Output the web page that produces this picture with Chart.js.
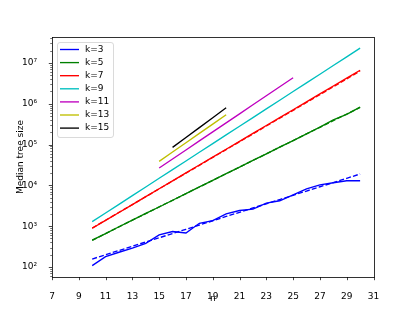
<!DOCTYPE html>
<html lang="en">
<head>
  <meta charset="UTF-8">
  <title>Median tree size</title>
  <script src="https://cdn.jsdelivr.net/npm/chart.js"></script>
  <style>
    body { margin: 0; background: #fff; }
    canvas { display: block; }
  </style>
</head>
<body>
  <canvas id="treeChart" width="415" height="311"></canvas>

  <script>
    // n values for each run
    const nLong = [10, 11, 12, 13, 14, 15, 16, 17, 18, 19, 20, 21, 22, 23, 24, 25, 26, 27, 28, 29, 30];
    const nK11 = [15, 16, 17, 18, 19, 20, 21, 22, 23, 24, 25];
    const nK13 = [15, 16, 17, 18, 19, 20];
    const nK15 = [16, 17, 18, 19, 20];

    // median tree sizes
    const k3 = [108, 179, 230, 290, 380, 610, 740, 680, 1180, 1370, 2000, 2420, 2620, 3660, 4200, 5870, 8250, 10300, 11600, 13000, 13000];
    const k3fit = [157, 200, 254, 323, 410, 520, 662, 840, 1070, 1360, 1730, 2190, 2790, 3540, 4500, 5720, 7270, 9240, 11700, 14900, 19000];
    const k5 = [457, 660, 970, 1400, 2050, 2950, 4320, 6250, 9150, 13200, 19300, 28000, 40800, 59000, 86500, 125000, 182000, 268000, 400000, 545000, 820000];
    const k5fit = [452, 661, 966, 1405, 2042, 2968, 4315, 6273, 9120, 13260, 19280, 28020, 40740, 59230, 86100, 125200, 182000, 264600, 384600, 559200, 812800];
    const k7 = [891, 1392, 2170, 3390, 5300, 8270, 12900, 20200, 31500, 49100, 76700, 119800, 187000, 292000, 456000, 712000, 1110000, 1740000, 2710000, 4230000, 6610000];
    const k7fit = [900, 1400, 2180, 3390, 5280, 8220, 12800, 19900, 31000, 48300, 75200, 117000, 182000, 284000, 442000, 688000, 1070000, 1670000, 2600000, 4050000, 6300000];
    const k9 = [1290, 2100, 3430, 5590, 9120, 14900, 24300, 39600, 64600, 105300, 171800, 280200, 457100, 745600, 1216000, 1984000, 3236000, 5278000, 8610000, 14040000, 22900000];
    const k11 = [26600, 44300, 73600, 122500, 203800, 339600, 564900, 939700, 1563000, 2600000, 4325000];
    const k13 = [38600, 65400, 110700, 187500, 317000, 537000];
    const k15 = [85100, 148800, 260000, 454500, 794000];

    const yMajor = [1e2, 1e3, 1e4, 1e5, 1e6, 1e7];
    const yMajorLabels = ['10²', '10³', '10⁴', '10⁵', '10⁶', '10⁷'];
    const xTicks = [7, 9, 11, 13, 15, 17, 19, 21, 23, 25, 27, 29, 31];

    function pts(xs, ys) {
      return xs.map((x, i) => ({ x: x, y: ys[i] }));
    }

    function line(label, xs, ys, color, dashed) {
      return {
        label: label,
        data: pts(xs, ys),
        borderColor: color,
        backgroundColor: color,
        borderWidth: 1.35,
        borderDash: dashed ? [5, 2.2] : [],
        pointRadius: 0,
        tension: 0,
        fill: false,
        inLegend: !dashed
      };
    }

    const datasets = [
      line('k=3', nLong, k3, '#0000ff', false),
      line('k=3 fit', nLong, k3fit, '#0000ff', true),
      line('k=5', nLong, k5, '#008000', false),
      line('k=5 fit', nLong, k5fit, '#008000', true),
      line('k=7', nLong, k7, '#ff0000', false),
      line('k=7 fit', nLong, k7fit, '#ff0000', true),
      line('k=9', nLong, k9, '#00bfbf', false),
      line('k=11', nK11, k11, '#bf00bf', false),
      line('k=13', nK13, k13, '#bfbf00', false),
      line('k=15', nK15, k15, '#000000', false)
    ];

    // frame, outward ticks (major + log minor) and the legend box
    const framePlugin = {
      id: 'frame',
      afterDraw(chart) {
        const ctx = chart.ctx;
        const a = chart.chartArea;
        const xs = chart.scales.x;
        const ys = chart.scales.y;
        ctx.save();
        ctx.strokeStyle = '#000';

        // x ticks
        ctx.lineWidth = 0.72;
        xTicks.forEach(v => {
          const px = Math.round(xs.getPixelForValue(v)) + 0.5;
          ctx.beginPath();
          ctx.moveTo(px, a.bottom);
          ctx.lineTo(px, a.bottom + 3.2);
          ctx.stroke();
        });

        // y ticks
        for (let e = 1; e <= 8; e++) {
          for (let m = 1; m <= 9; m++) {
            const v = m * Math.pow(10, e);
            if (v < ys.min || v > ys.max) continue;
            const py = Math.round(ys.getPixelForValue(v)) + 0.5;
            ctx.lineWidth = m === 1 ? 0.72 : 0.55;
            ctx.beginPath();
            ctx.moveTo(a.left, py);
            ctx.lineTo(a.left - (m === 1 ? 3.2 : 1.8), py);
            ctx.stroke();
          }
        }

        // frame
        ctx.lineWidth = 0.8;
        ctx.strokeRect(Math.round(a.left) + 0.5, Math.round(a.top) + 0.5,
          Math.round(a.right - a.left), Math.round(a.bottom - a.top));

        // legend
        const items = chart.data.datasets.filter(d => d.inLegend);
        const bx = 57.5, by = 42.5, bw = 56, bh = 95;
        ctx.fillStyle = 'rgba(255,255,255,0.8)';
        ctx.strokeStyle = 'rgba(204,204,204,0.8)';
        ctx.lineWidth = 0.9;
        ctx.beginPath();
        ctx.roundRect(bx, by, bw, bh, 2.5);
        ctx.fill();
        ctx.stroke();

        ctx.font = '9px "DejaVu Sans"';
        ctx.textBaseline = 'middle';
        ctx.textAlign = 'left';
        items.forEach((d, i) => {
          const y = 49.5 + i * 13.1;
          ctx.strokeStyle = d.borderColor;
          ctx.lineWidth = 1.35;
          ctx.beginPath();
          ctx.moveTo(60, y);
          ctx.lineTo(79, y);
          ctx.stroke();
          ctx.fillStyle = '#000';
          ctx.fillText(d.label, 85, y);
        });
        ctx.restore();
      }
    };

    Chart.defaults.font.family = '"DejaVu Sans"';
    Chart.defaults.font.size = 9;
    Chart.defaults.color = '#000';

    new Chart(document.getElementById('treeChart').getContext('2d'), {
      type: 'line',
      data: { datasets: datasets },
      options: {
        responsive: false,
        animation: false,
        devicePixelRatio: 1,
        layout: { padding: { left: 0, right: 41.5, top: 37, bottom: 0 } },
        plugins: {
          legend: { display: false },
          tooltip: { enabled: false }
        },
        scales: {
          x: {
            type: 'linear',
            min: 7,
            max: 31,
            afterBuildTicks: scale => { scale.ticks = xTicks.map(v => ({ value: v })); },
            afterFit: scale => { scale.height = 34; },
            ticks: { padding: 6, maxRotation: 0, autoSkip: false },
            grid: { display: false },
            border: { display: false },
            title: { display: true, text: 'n', padding: { top: 0, bottom: 7 } }
          },
          y: {
            type: 'logarithmic',
            min: 57,
            max: 4.3e7,
            afterBuildTicks: scale => { scale.ticks = yMajor.map(v => ({ value: v })); },
            afterFit: scale => { scale.width = 52; },
            ticks: {
              padding: 7,
              autoSkip: false,
              callback: (v) => {
                const i = yMajor.indexOf(v);
                return i >= 0 ? yMajorLabels[i] : '';
              }
            },
            grid: { display: false },
            border: { display: false },
            title: { display: true, text: 'Median tree size', padding: { top: 15, bottom: 0 } }
          }
        }
      },
      plugins: [framePlugin]
    });
  </script>
</body>
</html>
